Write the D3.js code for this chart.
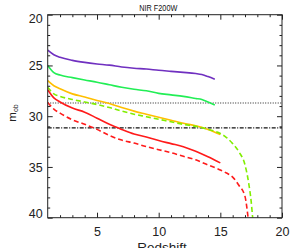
<!DOCTYPE html>
<html><head><meta charset="utf-8">
<script src="https://cdn.jsdelivr.net/npm/d3@7"></script>
<style>html,body{margin:0;padding:0;background:#fff;overflow:hidden}</style>
</head><body>
<script>
const title = "NIR F200W";
const xLabel = "Redshift";
const xMajorTicks = [5, 10, 15, 20];
const xMinorTicks = [2,3,4,6,7,8,9,11,12,13,14,16,17,18,19];
const yMajorTicks = [20, 25, 30, 35, 40];
const yMinorTicks = [21,22,23,24,26,27,28,29,31,32,33,34,36,37,38,39];
const dottedLevel = 28.7;
const dashDotLevel = 31.15;

const purpleZ = [1,1.5,2,3,4,5,6,7,8,9,10,11,12,13,13.5,14,14.55];
const purpleM = [23.5,23.95,24.2,24.5,24.7,24.85,24.97,25.15,25.27,25.35,25.48,25.58,25.68,25.8,25.9,26.1,26.37];
const greenZ = [1,1.5,2,3,4,5,6,7,8,9,10,11,12,13,13.5,14,14.55];
const greenM = [25.0,25.7,25.95,26.2,26.43,26.65,26.9,27.15,27.35,27.5,27.75,27.9,28.05,28.25,28.35,28.6,28.9];
const orangeZ = [1,1.5,2,3,4,5,6,7,8,9,10,11,12,13,14,15];
const orangeM = [26.5,27.0,27.3,27.8,28.1,28.45,28.75,29.15,29.5,29.8,30.1,30.4,30.7,30.95,31.3,31.8];
const limeZ = [1,1.5,2,3,4,5,6,7,8,9,10,11,12,13,14,15,15.5,16,16.5,17,17.3,17.5,17.62];
const limeM = [27.15,27.8,28.05,28.35,28.6,28.85,29.15,29.5,29.8,30.05,30.3,30.55,30.8,31.0,31.3,31.7,32.1,32.7,33.5,34.8,36.6,38.4,40];
const redZ = [1,1.5,2,3,4,5,6,7,8,9,10,11,12,13,14,15];
const redM = [27.4,28.2,28.6,29.2,29.6,30.2,30.8,31.3,31.75,32.05,32.4,32.7,33.0,33.45,34.0,34.6];
const redDashZ = [1,1.5,2,3,4,5,6,7,8,9,10,11,12,13,14,15,15.5,16,16.5,17,17.15,17.25];
const redDashM = [28.65,29.3,29.7,30.35,30.8,31.3,31.9,32.35,32.65,33.0,33.3,33.6,33.95,34.3,34.8,35.3,35.6,36.0,36.8,37.9,39.0,40];

const W = 297, H = 248;
const L = 47.7, R = 282, T = 14.7, B = 217.7;
const x = d3.scaleLinear().domain([1, 20]).range([L, R]);
const y = d3.scaleLinear().domain([20, 40]).range([T, B]);

const svg = d3.select("body").append("svg").attr("width", W).attr("height", H)
  .style("font-family", "'Liberation Sans', Arial, sans-serif");

svg.append("defs").append("clipPath").attr("id","clip")
  .append("rect").attr("x", L).attr("y", T).attr("width", R-L).attr("height", B-T);

const series = [
  {z: purpleZ, m: purpleM, color: "#7030c0", dash: null},
  {z: greenZ, m: greenM, color: "#22ee55", dash: null},
  {z: orangeZ, m: orangeM, color: "#ffbf00", dash: null},
  {z: limeZ, m: limeM, color: "#80ee00", dash: "5,3"},
  {z: redZ, m: redM, color: "#ff1a1a", dash: null},
  {z: redDashZ, m: redDashM, color: "#ff1a1a", dash: "5,3"}
];

// reference lines
svg.append("line").attr("x1", L).attr("x2", R).attr("y1", y(dottedLevel)).attr("y2", y(dottedLevel))
  .attr("stroke", "#222").attr("stroke-width", 1.1).attr("stroke-dasharray", "1,1.5");
svg.append("line").attr("x1", L).attr("x2", R).attr("y1", y(dashDotLevel)).attr("y2", y(dashDotLevel))
  .attr("stroke", "#111").attr("stroke-width", 1.1).attr("stroke-dasharray", "4,1.5,1,1.5");

const line = d3.line().x(d => x(d[0])).y(d => y(d[1])).curve(d3.curveMonotoneX);
const g = svg.append("g").attr("clip-path", "url(#clip)");
series.forEach(s => {
  const pts = s.z.map((z, i) => [z, s.m[i]]);
  g.append("path").attr("d", line(pts)).attr("fill", "none")
    .attr("stroke", s.color).attr("stroke-width", 1.6)
    .attr("stroke-dasharray", s.dash);
});

// axes
const fs = "12.5px";
function styleAxis(sel) {
  sel.select(".domain").remove();
  sel.selectAll("line").attr("stroke", "#222").attr("stroke-width", 1);
  sel.selectAll("text").attr("fill", "#222").style("font-size", fs).style("font-family", "'Liberation Sans', Arial, sans-serif");
}
// bottom
svg.append("g").attr("transform", `translate(0,${B})`)
  .call(d3.axisBottom(x).tickValues(xMajorTicks).tickSize(-5).tickPadding(9.5).tickFormat(d3.format("d")))
  .call(styleAxis);
svg.append("g").attr("transform", `translate(0,${B})`)
  .call(d3.axisBottom(x).tickValues(xMinorTicks).tickSize(-2.5).tickFormat(""))
  .call(styleAxis);
// top
svg.append("g").attr("transform", `translate(0,${T})`)
  .call(d3.axisTop(x).tickValues(xMajorTicks).tickSize(-5).tickFormat(""))
  .call(styleAxis);
svg.append("g").attr("transform", `translate(0,${T})`)
  .call(d3.axisTop(x).tickValues(xMinorTicks).tickSize(-2.5).tickFormat(""))
  .call(styleAxis);
// left
const leftAx = svg.append("g").attr("transform", `translate(${L},0)`)
  .call(d3.axisLeft(y).tickValues(yMajorTicks).tickSize(-5).tickPadding(5).tickFormat(d3.format("d")))
  .call(styleAxis);
leftAx.selectAll("text").attr("dy", d => d === 20 ? "0.66em" : d === 40 ? "0.02em" : "0.34em");
svg.append("g").attr("transform", `translate(${L},0)`)
  .call(d3.axisLeft(y).tickValues(yMinorTicks).tickSize(-2.5).tickFormat(""))
  .call(styleAxis);
// right
svg.append("g").attr("transform", `translate(${R},0)`)
  .call(d3.axisRight(y).tickValues(yMajorTicks).tickSize(-5).tickFormat(""))
  .call(styleAxis);
svg.append("g").attr("transform", `translate(${R},0)`)
  .call(d3.axisRight(y).tickValues(yMinorTicks).tickSize(-2.5).tickFormat(""))
  .call(styleAxis);

// frame
svg.append("rect").attr("x", L).attr("y", T).attr("width", R-L).attr("height", B-T)
  .attr("fill", "none").attr("stroke", "#222").attr("stroke-width", 1);

// title
svg.append("text").attr("x", 158.3).attr("y", 10.8).attr("text-anchor", "middle")
  .attr("textLength", 38).attr("lengthAdjust", "spacingAndGlyphs")
  .style("font-size", "9.5px").attr("fill", "#111").text(title);

// x label
svg.append("text").attr("x", 162).attr("y", 251.5).attr("text-anchor", "middle")
  .style("font-size", "13.5px").attr("fill", "#222").text(xLabel);

// y label m_ob
const yl = svg.append("text").attr("transform", "translate(16,113) rotate(-90)")
  .attr("text-anchor", "middle").style("font-size", "11.5px").attr("fill", "#222");
yl.append("tspan").text("m");
yl.append("tspan").attr("dy", "2").style("font-size", "7px").text("ob");
</script>
</body></html>
